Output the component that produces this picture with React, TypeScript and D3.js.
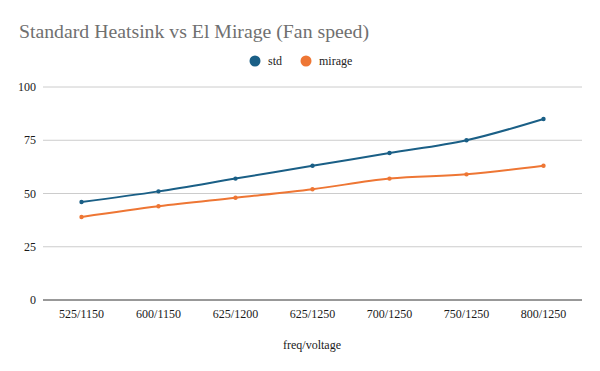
import React from "react";
import * as d3 from "d3";

const categories = ["525/1150", "600/1150", "625/1200", "625/1250", "700/1250", "750/1250", "800/1250"];
const stdValues = [46, 51, 57, 63, 69, 75, 85];
const mirageValues = [39, 44, 48, 52, 57, 59, 63];
const yTicks = [0, 25, 50, 75, 100];
const seriesNames = ["std", "mirage"];

const W = 600, H = 371;
const left = 43, right = 582, top = 87, bottom = 300;
const colors = ["#1a5f86", "#ee7634"];
const font = "'Liberation Serif', 'Times New Roman', serif";

export default function App() {
  const x = d3.scaleBand<string>().domain(categories).range([left, right]);
  const y = d3.scaleLinear().domain([0, 100]).range([bottom, top]);
  const line = d3
    .line<number>()
    .x((_, i) => (x(categories[i]) as number) + x.bandwidth() / 2)
    .y((d) => y(d))
    .curve(d3.curveMonotoneX);
  const series = [stdValues, mirageValues];

  return (
    <svg width={W} height={H} style={{ position: "absolute", left: 0, top: 0, background: "#fff" }}>
      <rect width={W} height={H} fill="#fff" />
      <text x={19} y={37.5} fontFamily={font} fontSize={19} fill="#707070" textLength={350} lengthAdjust="spacingAndGlyphs">
        Standard Heatsink vs El Mirage (Fan speed)
      </text>
      {seriesNames.map((n, i) => {
        const cx = i === 0 ? 255 : 306;
        return (
          <g key={n}>
            <circle cx={cx} cy={61} r={5.5} fill={colors[i]} />
            <text x={cx + 13} y={65} fontFamily={font} fontSize={12} fill="#222">
              {n}
            </text>
          </g>
        );
      })}
      {yTicks.map((t) => (
        <g key={t}>
          {t !== 0 && <line x1={left} x2={right} y1={y(t)} y2={y(t)} stroke="#cccccc" strokeWidth={1} />}
          <text x={36} y={y(t) + 4} textAnchor="end" fontFamily={font} fontSize={12} fill="#1a1a1a">
            {t}
          </text>
        </g>
      ))}
      <line x1={left} x2={right} y1={bottom} y2={bottom} stroke="#333" strokeWidth={1} />
      {categories.map((c) => (
        <text
          key={c}
          x={(x(c) as number) + x.bandwidth() / 2}
          y={318}
          textAnchor="middle"
          fontFamily={font}
          fontSize={12}
          fill="#1a1a1a"
        >
          {c}
        </text>
      ))}
      <text x={312} y={349} textAnchor="middle" fontFamily={font} fontSize={12} fill="#1a1a1a">
        freq/voltage
      </text>
      {series.map((vals, si) => (
        <g key={si}>
          <path d={line(vals) || ""} fill="none" stroke={colors[si]} strokeWidth={2} />
          {vals.map((v, i) => (
            <circle
              key={i}
              cx={(x(categories[i]) as number) + x.bandwidth() / 2}
              cy={y(v)}
              r={2.2}
              fill={colors[si]}
            />
          ))}
        </g>
      ))}
    </svg>
  );
}
